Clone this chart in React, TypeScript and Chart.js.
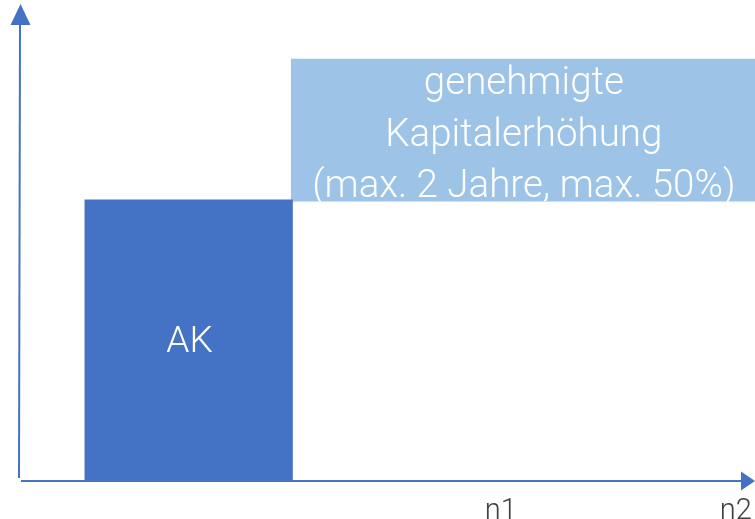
import React, { useEffect, useRef } from "react";
import { Chart, registerables } from "chart.js";

Chart.register(...registerables);

// Data (arbitrary units, x 0..100, y 0..100)
const barLabels = ["AK", "genehmigte\nKapitalerhöhung\n(max. 2 Jahre, max. 50%)"];
const barX0 = [9, 37];
const barX1 = [37.3, 100];
const barY0 = [0, 58.6];
const barY1 = [59, 88.5];
const barColors = ["#4472C4", "#9DC3E6"];
const tickValues = [65.5, 97.4];
const tickLabels = ["n1", "n2"];

const AXIS = "#4472C4";

export default function App() {
  const ref = useRef<HTMLCanvasElement>(null);
  useEffect(() => {
    const canvas = ref.current!;
    const overlay = {
      id: "overlay",
      afterDatasetsDraw(chart: any) {
        const ctx = chart.ctx;
        const xs = chart.scales.x;
        const ys = chart.scales.y;
        ctx.save();
        // axes
        const ox = xs.getPixelForValue(0) + 1;
        const oy = ys.getPixelForValue(0);
        ctx.strokeStyle = AXIS;
        ctx.lineWidth = 2;
        ctx.beginPath();
        ctx.moveTo(ox, oy - 3);
        ctx.lineTo(ox + 1, 24);
        ctx.stroke();
        ctx.beginPath();
        ctx.moveTo(ox + 2, oy);
        ctx.lineTo(742, oy);
        ctx.stroke();
        ctx.fillStyle = AXIS;
        // y arrow
        ctx.beginPath();
        ctx.moveTo(ox + 1.5, 4);
        ctx.lineTo(ox + 11.5, 25);
        ctx.lineTo(ox - 8.5, 25);
        ctx.closePath();
        ctx.fill();
        // x arrow
        ctx.beginPath();
        ctx.moveTo(755, oy);
        ctx.lineTo(741, oy - 9.5);
        ctx.lineTo(741, oy + 9.5);
        ctx.closePath();
        ctx.fill();
        // bar labels
        ctx.fillStyle = "#ffffff";
        ctx.textAlign = "center";
        ctx.textBaseline = "alphabetic";
        barLabels.forEach((lab, i) => {
          const x0 = xs.getPixelForValue(barX0[i]);
          const x1 = xs.getPixelForValue(barX1[i]);
          const yTop = ys.getPixelForValue(barY1[i]);
          const yBot = ys.getPixelForValue(barY0[i]);
          const cx = (x0 + x1) / 2;
          const cy = (yTop + yBot) / 2;
          const lines = lab.split("\n");
          const lh = 51.7;
          ctx.font = lines.length === 1 ? "300 37px Roboto" : "300 38.5px Roboto";
          ctx.save();
          ctx.beginPath();
          ctx.rect(x0, yTop, x1 - x0, yBot - yTop);
          ctx.clip();
          lines.forEach((l, j) => {
            const off = lines.length === 1 ? 12 : 15.5;
            ctx.fillText(l, cx + 1, cy + off + (j - (lines.length - 1) / 2) * lh);
          });
          ctx.restore();
        });
        // tick labels
        ctx.fillStyle = "#404040";
        ctx.font = "300 29px Roboto";
        ctx.textBaseline = "alphabetic";
        tickValues.forEach((v, i) => {
          ctx.fillText(tickLabels[i], xs.getPixelForValue(v), 519);
        });
        ctx.restore();
      },
    };
    const chart = new Chart(canvas, {
      type: "line",
      data: {
        datasets: barLabels.map((lab, i) => ({
          label: lab,
          data: [
            { x: barX0[i], y: barY1[i] },
            { x: barX1[i], y: barY1[i] },
          ],
          fill: i === 0 ? "origin" : { value: barY0[i] },
          backgroundColor: barColors[i],
          borderColor: barColors[i],
          borderWidth: 0,
          pointRadius: 0,
          tension: 0,
        })),
      },
      options: {
        animation: false,
        responsive: false,
        events: [],
        layout: { padding: { left: 18, top: 4, right: 0, bottom: 38 } },
        plugins: { legend: { display: false }, tooltip: { enabled: false } },
        scales: {
          x: { type: "linear", min: 0, max: 100, display: false },
          y: { type: "linear", min: 0, max: 100, display: false },
        },
      },
      plugins: [overlay],
    });
    return () => chart.destroy();
  }, []);
  return (
    <div style={{ position: "absolute", left: 0, top: 0, width: 755, height: 519, background: "#fff", overflow: "hidden" }}>
      <canvas ref={ref} width={755} height={519} style={{ display: "block" }} />
    </div>
  );
}
